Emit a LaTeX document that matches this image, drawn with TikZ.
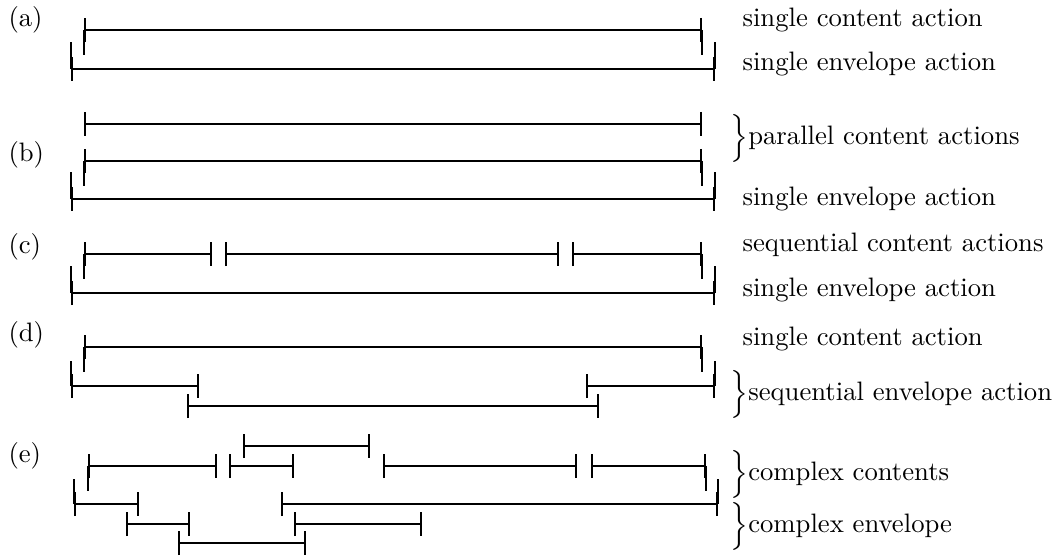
\documentclass[tikz,border=0pt]{standalone}
\usetikzlibrary{arrows.meta}

\begin{document}
\begin{tikzpicture}[
    x=0.375pt, y=-0.375pt,
    content/.style={line width=0.9pt, {Bar[width=9pt,line width=0.9pt]}-{Bar[width=9pt,line width=0.9pt]}},
    envelope/.style={line width=0.6pt, {Bar[width=9pt,line width=0.9pt]}-{Bar[width=9pt,line width=0.9pt]}},
    link/.style={line width=0.9pt},
    tag/.style={anchor=base west, inner sep=0pt},
    brace/.style={anchor=west, inner sep=0pt}
]
\useasboundingbox (0,0) rectangle (1064,556);

% Case labels
\node[tag] (la) at (8,27) {(a)};
\node[tag] (lb) at (8,162) {(b)};
\node[tag] (lc) at (8,254) {(c)};
\node[tag] (ld) at (8,342) {(d)};
\node[tag] (le) at (8,462) {(e)};

% (a) single content over single envelope
\draw[content] (84,30) -- (702,30);
\draw[envelope] (71,69) -- (715,69);
\draw[link] (84,30) -- ++(0,25) (702,30) -- ++(0,25);
\draw[link] (71,69) -- ++(0,-27) (715,69) -- ++(0,-27);
\node[tag] (ta1) at (742,27) {single content action};
\node[tag] (ta2) at (742,71) {single envelope action};

% (b) parallel contents
\draw[content] (84,124) -- (702,124);
\draw[content] (84,161) -- (702,161);
\draw[envelope] (71,199) -- (715,199);
\draw[link] (84,161) -- ++(0,25) (702,161) -- ++(0,25);
\draw[link] (71,199) -- ++(0,-27) (715,199) -- ++(0,-27);
\node[brace] (tb1) at (730,138) {$\Big\}$parallel content actions};
\node[tag] (tb2) at (742,205) {single envelope action};

% (c) sequential contents
\draw[content] (84,254) -- (212,254);
\draw[content] (225,254) -- (559,254);
\draw[content] (572,254) -- (702,254);
\draw[envelope] (71,293) -- (715,293);
\draw[link] (84,254) -- ++(0,25) (702,254) -- ++(0,25);
\draw[link] (71,293) -- ++(0,-27) (715,293) -- ++(0,-27);
\node[tag] (tc1) at (742,251) {sequential content actions};
\node[tag] (tc2) at (742,297) {single envelope action};

% (d) sequential envelope
\draw[content] (84,347) -- (702,347);
\draw[envelope] (71,386) -- (199,386);
\draw[envelope] (586,386) -- (715,386);
\draw[envelope] (187,406) -- (599,406);
\draw[link] (84,347) -- ++(0,25) (702,347) -- ++(0,25);
\draw[link] (71,386) -- ++(0,-25) (715,386) -- ++(0,-25);
\node[tag] (td1) at (742,345) {single content action};
\node[brace] (td2) at (730,394) {$\Big\}$sequential envelope action};

% (e) complex contents and envelope
\draw[content] (243,446) -- (370,446);
\draw[content] (88,466) -- (217,466);
\draw[content] (229,466) -- (294,466);
\draw[content] (383,466) -- (577,466);
\draw[content] (591,466) -- (706,466);
\draw[envelope] (74,504) -- (139,504);
\draw[envelope] (281,504) -- (718,504);
\draw[envelope] (126,524) -- (190,524);
\draw[envelope] (294,524) -- (422,524);
\draw[envelope] (178,543) -- (306,543);
\draw[link] (88,466) -- ++(0,25) (706,466) -- ++(0,25);
\draw[link] (74,504) -- ++(0,-25) (718,504) -- ++(0,-25);
\node[brace] (te1) at (730,474) {$\Big\}$complex contents};
\node[brace] (te2) at (730,526) {$\Big\}$complex envelope};

\end{tikzpicture}
\end{document}
